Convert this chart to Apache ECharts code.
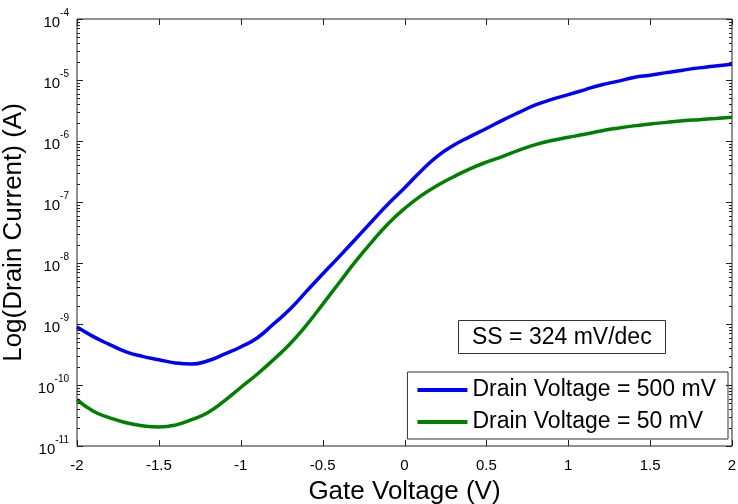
<!DOCTYPE html>
<html>
<head>
<meta charset="utf-8">
<script src="https://cdn.jsdelivr.net/npm/echarts@6/dist/echarts.min.js"></script>
<style>
  html, body { margin: 0; padding: 0; background: #fff; }
  #chart { width: 738px; height: 504px; }
</style>
</head>
<body>
<div id="chart"></div>
<script>
// gate voltage (V), every 0.1 V
var gateVoltage = [-2.0, -1.9, -1.8, -1.7, -1.6, -1.5, -1.4, -1.3, -1.2, -1.1,
    -1.0, -0.9, -0.8, -0.7, -0.6, -0.5, -0.4, -0.3, -0.2, -0.1,
    0.0, 0.1, 0.2, 0.3, 0.4, 0.5, 0.6, 0.7, 0.8, 0.9,
    1.0, 1.1, 1.2, 1.3, 1.4, 1.5, 1.6, 1.7, 1.8, 1.9, 2.0];

// drain current (A) at Vd = 500 mV
var drain500 = [8.9e-10, 6.2e-10, 4.6e-10, 3.5e-10, 2.95e-10, 2.6e-10, 2.3e-10, 2.2e-10, 2.5e-10, 3.2e-10,
    4.2e-10, 5.9e-10, 1.0e-9, 1.74e-9, 3.4e-9, 6.6e-9, 1.26e-8, 2.45e-8, 4.8e-8, 9.3e-8,
    1.7e-7, 3.2e-7, 5.6e-7, 8.5e-7, 1.18e-6, 1.6e-6, 2.2e-6, 2.95e-6, 3.9e-6, 4.8e-6,
    5.75e-6, 6.9e-6, 8.3e-6, 9.5e-6, 1.1e-5, 1.2e-5, 1.32e-5, 1.45e-5, 1.58e-5, 1.7e-5, 1.82e-5];

// drain current (A) at Vd = 50 mV
var drain50 = [5.75e-11, 3.7e-11, 2.9e-11, 2.4e-11, 2.15e-11, 2.05e-11, 2.2e-11, 2.7e-11, 3.55e-11, 5.5e-11,
    9.1e-11, 1.5e-10, 2.6e-10, 4.7e-10, 9.5e-10, 2.1e-9, 4.7e-9, 1.05e-8, 2.2e-8, 4.4e-8,
    7.8e-8, 1.26e-7, 1.86e-7, 2.6e-7, 3.5e-7, 4.5e-7, 5.6e-7, 7.1e-7, 8.7e-7, 1.02e-6,
    1.15e-6, 1.29e-6, 1.46e-6, 1.62e-6, 1.77e-6, 1.9e-6, 2.02e-6, 2.14e-6, 2.24e-6, 2.34e-6, 2.45e-6];

var xTicks = [-2, -1.5, -1, -0.5, 0, 0.5, 1, 1.5, 2];
var yDecades = [-11, -10, -9, -8, -7, -6, -5, -4];

var seriesNames = ['Drain Voltage = 500 mV', 'Drain Voltage = 50 mV'];
var ssText = 'SS = 324 mV/dec';

var font = 'Liberation Sans, Arial, sans-serif';
var chart = echarts.init(document.getElementById('chart'));

function pairs(ys) {
    return gateVoltage.map(function (v, i) { return [v, ys[i]]; });
}

var option = {
    animation: false,
    backgroundColor: '#fff',
    textStyle: { fontFamily: font },
    // the box comes from the grid border, MATLAB style
    grid: {
        left: 77, right: 6, top: 19, bottom: 58,
        containLabel: false, outerBoundsMode: 'none',
        show: true, borderColor: '#222', borderWidth: 1, backgroundColor: 'transparent'
    },
    title: {
        text: ssText,
        left: 458, top: 320,
        padding: [6, 14, 5, 14],
        borderWidth: 1, borderColor: '#333',
        backgroundColor: '#fff',
        textStyle: { fontFamily: font, fontSize: 23, fontWeight: 'normal', color: '#000' }
    },
    legend: {
        data: seriesNames,
        orient: 'vertical',
        right: 10, top: 372,
        padding: [6, 12, 5, 10],
        itemGap: 8,
        itemWidth: 50, itemHeight: 4,
        icon: 'rect',
        borderWidth: 1, borderColor: '#333',
        backgroundColor: '#fff',
        textStyle: { fontFamily: font, fontSize: 23, color: '#000', lineHeight: 24 }
    },
    xAxis: {
        type: 'value', min: -2, max: 2, interval: 0.5,
        name: 'Gate Voltage (V)', nameLocation: 'middle', nameGap: 33,
        nameTextStyle: { fontFamily: font, fontSize: 26, color: '#000' },
        axisLine: { show: false, onZero: false },
        axisTick: { show: false },
        axisLabel: { fontFamily: font, fontSize: 15, color: '#000', margin: 12 },
        splitLine: { show: false }
    },
    yAxis: {
        type: 'log', min: 1e-11, max: 1e-4, logBase: 10,
        name: 'Log(Drain Current) (A)', nameLocation: 'middle', nameGap: 48,
        nameTextStyle: { fontFamily: font, fontSize: 26, color: '#000' },
        axisLine: { show: false, onZero: false },
        axisTick: { show: false },
        axisLabel: {
            margin: 8,
            formatter: function (v) {
                return '{b|10}{s|' + Math.round(Math.log10(v)) + '}';
            },
            rich: {
                b: { fontFamily: font, fontSize: 15, color: '#000', verticalAlign: 'bottom' },
                s: { fontFamily: font, fontSize: 10, color: '#000', verticalAlign: 'bottom', padding: [0, 0, 12, 0] }
            }
        },
        splitLine: { show: false }
    },
    series: [{
        name: seriesNames[0], type: 'line',
        data: pairs(drain500), showSymbol: false, smooth: true,
        lineStyle: { color: '#0000ff', width: 3.5 }, itemStyle: { color: '#0000ff' }
    }, {
        name: seriesNames[1], type: 'line',
        data: pairs(drain50), showSymbol: false, smooth: true,
        lineStyle: { color: '#008000', width: 3.5 }, itemStyle: { color: '#008000' }
    }]
};
chart.setOption(option);

// inward ticks on all four sides, placed through the axes' own scales
var tickStyle = { stroke: '#222', lineWidth: 1 };
var ticks = [];
function seg(x1, y1, x2, y2) {
    ticks.push({ type: 'line', silent: true, z: 5, shape: { x1: x1, y1: y1, x2: x2, y2: y2 }, style: tickStyle });
}
var xL = chart.convertToPixel({ xAxisIndex: 0 }, -2);
var xR = chart.convertToPixel({ xAxisIndex: 0 }, 2);
var yB = chart.convertToPixel({ yAxisIndex: 0 }, 1e-11);
var yT = chart.convertToPixel({ yAxisIndex: 0 }, 1e-4);

xTicks.forEach(function (v) {
    var px = Math.round(chart.convertToPixel({ xAxisIndex: 0 }, v)) + 0.5;
    seg(px, yB, px, yB - 6);
    seg(px, yT, px, yT + 6);
});
yDecades.forEach(function (d) {
    var py = Math.round(chart.convertToPixel({ yAxisIndex: 0 }, Math.pow(10, d))) + 0.5;
    seg(xL, py, xL + 6, py);
    seg(xR, py, xR - 6, py);
    if (d < -4) {
        for (var m = 2; m <= 9; m++) {
            var pm = Math.round(chart.convertToPixel({ yAxisIndex: 0 }, m * Math.pow(10, d))) + 0.5;
            seg(xL, pm, xL + 3, pm);
            seg(xR, pm, xR - 3, pm);
        }
    }
});
chart.setOption({ graphic: { elements: ticks } });
</script>
</body>
</html>
